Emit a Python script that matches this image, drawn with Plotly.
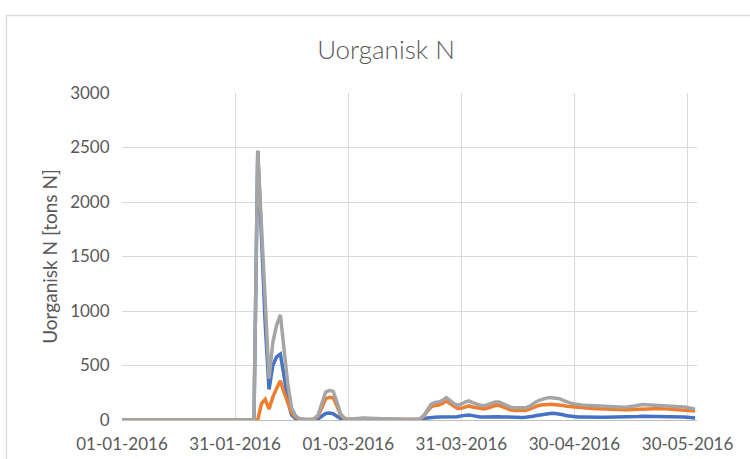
import pandas as pd
import plotly.graph_objects as go

# Daily values, 1 Jan 2016 - 1 Jun 2016 (tons N)
blue_vals = [
    0, 0, 0, 0, 0, 0, 0, 0, 0, 0,
    0, 0, 0, 0, 0, 0, 0, 0, 0, 0,
    0, 0, 0, 0, 0, 0, 0, 0, 0, 0,
    0, 0, 0, 0, 0, 0,
    2470, 1570, 870, 280, 500, 580, 605, 400, 170, 45,
    12, 4, 2, 1, 1, 3, 10, 38, 60, 63,
    58, 35, 12, 4,
    2, 2, 3, 3, 4, 3, 3, 3, 2, 2, 2, 2, 2, 1, 1, 1, 1, 1, 1,
    2, 8, 18, 25, 26, 28, 28, 30, 28, 26,
    30, 38, 45, 46, 40, 32, 28, 28, 30, 32,
    32, 30, 28, 26, 25, 24, 24, 24, 25, 28,
    35, 42, 48, 55, 60, 61, 60, 56, 48, 38,
    32, 30, 28, 27, 25, 25, 25, 25, 25, 25,
    25, 25, 25, 25, 25, 25, 26, 30, 33, 35,
    35, 34, 34, 34, 33, 33, 33, 32, 32, 30,
    27, 25, 22, 18,
]

orange_vals = [
    0, 0, 0, 0, 0, 0, 0, 0, 0, 0,
    0, 0, 0, 0, 0, 0, 0, 0, 0, 0,
    0, 0, 0, 0, 0, 0, 0, 0, 0, 0,
    0, 0, 0, 0, 0, 0,
    0, 150, 190, 100, 210, 290, 360, 250, 150, 65,
    28, 11, 6, 4, 4, 9, 35, 112, 195, 209,
    204, 130, 43, 14,
    6, 8, 11, 13, 14, 14, 12, 11, 10, 8, 7, 6, 5, 5, 5, 4, 4, 4, 5,
    8, 32, 82, 120, 134, 137, 152, 175, 152, 124,
    105, 107, 120, 129, 120, 113, 107, 102, 110, 123,
    133, 135, 122, 104, 93, 88, 86, 86, 87, 97,
    115, 128, 137, 140, 145, 144, 140, 139, 132, 127,
    123, 118, 112, 111, 110, 108, 105, 103, 100, 97,
    95, 94, 93, 93, 93, 95, 96, 98, 102, 107,
    105, 104, 104, 104, 105, 102, 99, 96, 93, 92,
    93, 90, 86, 82,
]

gray_vals = [
    0, 0, 0, 0, 0, 0, 0, 0, 0, 0,
    0, 0, 0, 0, 0, 0, 0, 0, 0, 0,
    0, 0, 0, 0, 0, 0, 0, 0, 0, 0,
    0, 0, 0, 0, 0, 0,
    2470, 1720, 1060, 380, 710, 870, 965, 650, 320, 110,
    40, 15, 8, 5, 5, 12, 45, 150, 255, 272,
    262, 165, 55, 18,
    8, 10, 14, 16, 18, 17, 15, 14, 12, 10, 9, 8, 7, 6, 6, 5, 5, 5, 6,
    10, 40, 100, 145, 160, 165, 180, 205, 180, 150,
    135, 145, 165, 175, 160, 145, 135, 130, 140, 155,
    165, 165, 150, 130, 118, 112, 110, 110, 112, 125,
    150, 170, 185, 195, 205, 205, 200, 195, 180, 165,
    155, 148, 140, 138, 135, 133, 130, 128, 125, 122,
    120, 119, 118, 118, 118, 120, 122, 128, 135, 142,
    140, 138, 138, 138, 138, 135, 132, 128, 125, 122,
    120, 115, 108, 100,
]

dates = pd.date_range("2016-01-01", periods=len(gray_vals), freq="D")

series = [
    ("Serie 1", blue_vals, "#4472C4"),
    ("Serie 2", orange_vals, "#ED7D31"),
    ("Serie 3", gray_vals, "#A5A5A5"),
]

fig = go.Figure()
for name, vals, color in series:
    fig.add_trace(go.Scatter(
        x=dates, y=vals, name=name, mode="lines",
        line=dict(color=color, width=3.5),
    ))

W, H = 750, 459
L, R, T, B = 122, 697, 93, 420   # plot area in pixels

grid = "#D9D9D9"
txt = "#595959"
font = "Lato, 'Open Sans', sans-serif"

fig.update_layout(
    width=W, height=H,
    margin=dict(l=L, r=W - R, t=T, b=H - B),
    paper_bgcolor="white", plot_bgcolor="white",
    showlegend=False,
    font=dict(family=font, color=txt, size=17),
    title=dict(
        text="Uorganisk N", x=386 / W, y=1 - 50 / H,
        xref="container", yref="container",
        xanchor="center", yanchor="middle",
        font=dict(size=26, color=txt, family=font, weight=300),
    ),
    xaxis=dict(
        type="date",
        range=["2016-01-01", "2016-06-01 12:00"],
        tick0="2016-01-01", dtick=30 * 86400000,
        tickformat="%d-%m-%Y",
        showgrid=True, gridcolor=grid, gridwidth=1.3,
        showline=True, linecolor="#BFBFBF", linewidth=1.3,
        ticks="outside", ticklen=8, tickcolor="rgba(0,0,0,0)",
        zeroline=False, automargin=False,
        tickfont=dict(size=17, color=txt),
    ),
    yaxis=dict(
        range=[0, 3000], dtick=500,
        showgrid=True, gridcolor=grid, gridwidth=1.3,
        zeroline=False, showline=False,
        ticks="outside", ticklen=8, tickcolor="rgba(0,0,0,0)",
        tickfont=dict(size=17, color=txt), automargin=False,
        title=dict(text="Uorganisk N [tons N]", standoff=7,
                   font=dict(size=19, color=txt)),
    ),
)

# chart-area border
fig.add_shape(
    type="rect", xref="paper", yref="paper",
    x0=(6.5 - L) / (R - L), x1=(770 - L) / (R - L),
    y0=(B - 480) / (B - T), y1=(B - 15.5) / (B - T),
    line=dict(color="#D9D9D9", width=1.3), fillcolor="rgba(0,0,0,0)",
    layer="below",
)

fig.write_html("out.html")
